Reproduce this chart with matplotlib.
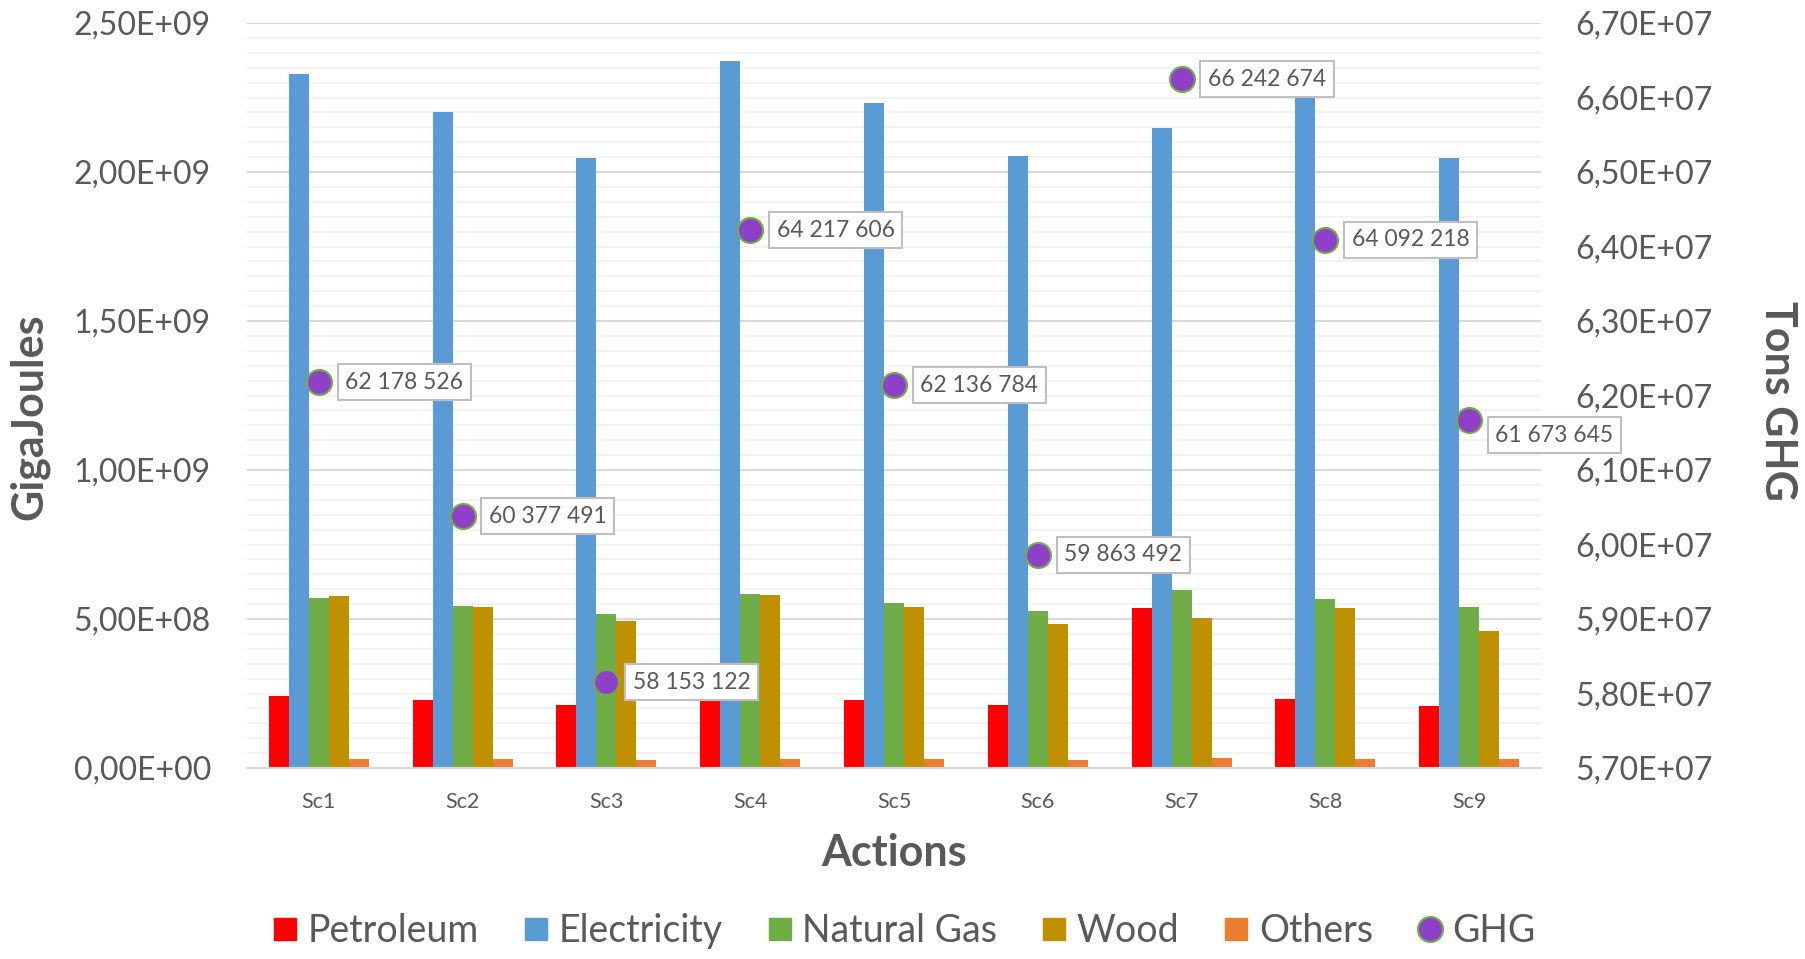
import matplotlib
matplotlib.use('Agg')
import matplotlib.pyplot as plt
from matplotlib.ticker import MultipleLocator, FuncFormatter
from matplotlib.lines import Line2D
import numpy as np

plt.rcParams['font.family'] = ['Lato', 'DejaVu Sans']

scenarios = ['Sc1', 'Sc2', 'Sc3', 'Sc4', 'Sc5', 'Sc6', 'Sc7', 'Sc8', 'Sc9']

# energy use per source (GigaJoules)
petroleum = [2.42e8, 2.27e8, 2.10e8, 2.40e8, 2.29e8, 2.11e8, 5.36e8, 2.31e8, 2.08e8]
electricity = [2.329e9, 2.202e9, 2.047e9, 2.374e9, 2.231e9, 2.053e9, 2.149e9, 2.28e9, 2.048e9]
natural_gas = [5.70e8, 5.45e8, 5.16e8, 5.84e8, 5.54e8, 5.28e8, 5.96e8, 5.66e8, 5.41e8]
wood = [5.77e8, 5.40e8, 4.93e8, 5.82e8, 5.41e8, 4.84e8, 5.03e8, 5.36e8, 4.60e8]
others = [3.0e7, 2.9e7, 2.7e7, 3.0e7, 2.9e7, 2.7e7, 3.3e7, 3.0e7, 2.9e7]

# greenhouse gas emissions (tons)
ghg = [62178526, 60377491, 58153122, 64217606, 62136784, 59863492, 66242674, 64092218, 61673645]

series = [
    ('Petroleum', petroleum, '#FF0000'),
    ('Electricity', electricity, '#5B9BD5'),
    ('Natural Gas', natural_gas, '#70AD47'),
    ('Wood', wood, '#BF9000'),
    ('Others', others, '#ED7D31'),
]
GHG_FACE = '#8E40C8'
GHG_EDGE = '#70AD47'
TEXT = '#595959'


def sci_comma(v, pos):
    return f'{v:.2E}'.replace('.', ',')


def spaced(n):
    return f'{n:,}'.replace(',', ' ')


fig = plt.figure(figsize=(18.06, 9.59), dpi=100)
ax = fig.add_axes([247 / 1806, 1 - 768 / 959, (1541 - 247) / 1806, (768 - 23) / 959])

x = np.arange(len(scenarios))
width = 0.139
for i, (name, vals, color) in enumerate(series):
    ax.bar(x + (i - 2) * width, vals, width=width, color=color, zorder=2)

ax.set_xlim(-0.5, len(scenarios) - 0.5)
ax.set_ylim(0, 2.5e9)
ax.yaxis.set_major_locator(MultipleLocator(5e8))
ax.yaxis.set_minor_locator(MultipleLocator(5e7))
ax.yaxis.set_major_formatter(FuncFormatter(sci_comma))
ax.grid(which='major', axis='y', color='#D9D9D9', linewidth=1.5)
ax.grid(which='minor', axis='y', color='#F2F2F2', linewidth=1.5)
ax.set_axisbelow(True)
ax.set_xticks(x)
ax.set_xticklabels(scenarios)
ax.tick_params(axis='x', length=0, pad=17, labelsize=15.5, labelcolor=TEXT)
ax.tick_params(axis='y', which='both', length=0, pad=26, labelsize=23, labelcolor=TEXT)
for s in ['top', 'left', 'right']:
    ax.spines[s].set_visible(False)
ax.spines['bottom'].set_color('#D9D9D9')
ax.spines['bottom'].set_linewidth(1.5)

# secondary axis for GHG
ax2 = ax.twinx()
ax2.set_ylim(5.7e7, 6.7e7)
ax2.yaxis.set_major_locator(MultipleLocator(1e6))
ax2.yaxis.set_major_formatter(FuncFormatter(sci_comma))
ax2.tick_params(axis='y', length=0, pad=25, labelsize=23, labelcolor=TEXT)
for s in ax2.spines.values():
    s.set_visible(False)
ax2.patch.set_visible(False)

ax2.plot(x, ghg, linestyle='none', marker='o', markersize=18,
         markerfacecolor=GHG_FACE, markeredgecolor=GHG_EDGE, markeredgewidth=1.5, zorder=4)

label_dy = {8: -11}
for i, v in enumerate(ghg):
    ax2.annotate(spaced(v), (x[i], v), xytext=(19, label_dy.get(i, 0)), textcoords='offset points',
                 ha='left', va='center', fontsize=16.5, color=TEXT, zorder=5,
                 bbox=dict(boxstyle='square,pad=0.33', facecolor='white', edgecolor='#BFBFBF', linewidth=1.5))

fig.text(29 / 1806, 1 - 417 / 959, 'GigaJoules', rotation=90, ha='center', va='center',
         fontsize=31, fontweight='bold', color=TEXT)
fig.text(1778 / 1806, 1 - 401 / 959, 'Tons GHG', rotation=270, ha='center', va='center',
         fontsize=31, fontweight='bold', color=TEXT)
fig.text(894 / 1806, 1 - 853 / 959, 'Actions', ha='center', va='center',
         fontsize=31, fontweight='bold', color=TEXT)

handles = [Line2D([], [], linestyle='none', marker='s', markersize=16, markerfacecolor=c, markeredgecolor=c)
           for _, _, c in series]
handles.append(Line2D([], [], linestyle='none', marker='o', markersize=18,
                      markerfacecolor=GHG_FACE, markeredgecolor=GHG_EDGE, markeredgewidth=1.5))
labels = [s[0] for s in series] + ['GHG']
leg = fig.legend(handles, labels, loc='center', bbox_to_anchor=(905 / 1806, 1 - 931 / 959), ncol=6,
                 frameon=False, fontsize=27, handlelength=0.6, handletextpad=0.3, columnspacing=1.22)
for t in leg.get_texts():
    t.set_color(TEXT)

fig.savefig('out.png', dpi=100)
